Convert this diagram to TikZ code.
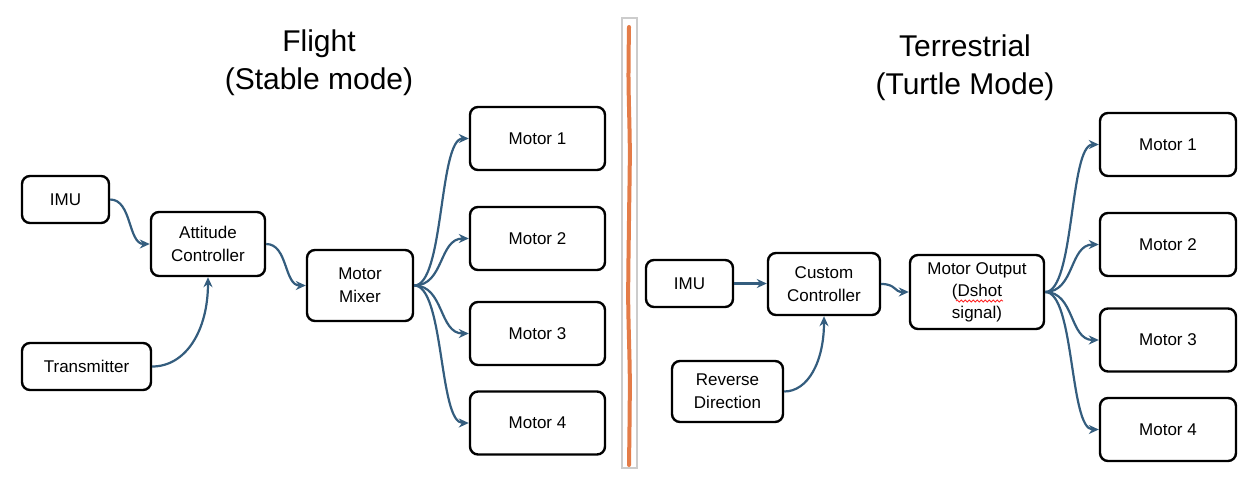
\documentclass[tikz,border=0pt]{standalone}
\usepackage{fontspec}
\setmainfont{Liberation Sans}
\usetikzlibrary{arrows.meta,calc,decorations.pathmorphing}
\definecolor{conncol}{RGB}{52,93,126}
\definecolor{divorange}{RGB}{228,124,72}
\newcommand\scurve[2]{\draw[link] (#1) .. controls ($(#1)!0.55!(#2 |- #1)$) and ($(#2)!0.55!(#1 |- #2)$) .. (#2);}
\newcommand\upcurve[2]{\draw[link] (#1) .. controls ($(#1)!0.6!(#2 |- #1)$) and ($(#2)!0.6!(#2 |- #1)$) .. (#2);}
\begin{document}
\begin{tikzpicture}[x=1pt,y=-1pt,
  box/.style={draw=black,line width=2.4pt,rounded corners=8pt,align=center,inner sep=0pt,
    font=\fontsize{17}{23}\selectfont,text=black},
  title/.style={align=center,inner sep=0pt,font=\fontsize{30}{38}\selectfont},
  link/.style={draw=conncol,line width=2.2pt,-{Stealth[length=10pt,width=9pt]}}]
\useasboundingbox (0,0) rectangle (1246,486);
% titles
\node[title] (t1) at (319,63) {Flight\\(Stable mode)};
\node[title] (t2) at (965,68) {Terrestrial\\(Turtle Mode)};
% divider
\draw[draw=gray!40,line width=1.2pt] (622,18) rectangle (637,468);
\draw[divorange,line width=4pt,line cap=round] plot[smooth] coordinates {(629,27) (628.5,80) (629.8,150) (629,220) (628.2,300) (629.8,380) (629,465)};
% left nodes
\node[box,minimum width=87pt,minimum height=47pt] (imuL) at (65.5,199.5) {IMU};
\node[box,minimum width=114pt,minimum height=64pt] (att) at (208,244) {Attitude\\Controller};
\node[box,minimum width=129pt,minimum height=47pt] (tx) at (86.5,366.5) {Transmitter};
\node[box,minimum width=106pt,minimum height=71pt] (mix) at (360,285.5) {Motor\\Mixer};
\node[box,minimum width=135pt,minimum height=63pt] (m1) at (537.5,138.5) {Motor 1};
\node[box,minimum width=135pt,minimum height=63pt] (m2) at (537.5,238.5) {Motor 2};
\node[box,minimum width=135pt,minimum height=63pt] (m3) at (537.5,333.5) {Motor 3};
\node[box,minimum width=135pt,minimum height=63pt] (m4) at (537.5,423) {Motor 4};
% right nodes
\node[box,minimum width=87pt,minimum height=47pt] (imuR) at (689.5,283.5) {IMU};
\node[box,minimum width=112pt,minimum height=62pt] (cc) at (824,284) {Custom\\Controller};
\node[box,minimum width=111pt,minimum height=61pt] (rd) at (727.5,391.5) {Reverse\\Direction};
\node[box,minimum width=134pt,minimum height=74pt,font=\fontsize{17}{22}\selectfont] (mo) at (977,292) {Motor Output\\(Dshot\\signal)};
\node[box,minimum width=136pt,minimum height=63pt] (n1) at (1168,144.5) {Motor 1};
\node[box,minimum width=136pt,minimum height=63pt] (n2) at (1168,244.5) {Motor 2};
\node[box,minimum width=136pt,minimum height=63pt] (n3) at (1168,340) {Motor 3};
\node[box,minimum width=136pt,minimum height=63pt] (n4) at (1168,429.5) {Motor 4};
% spell-check underline
\draw[red!85!white,line width=0.8pt,decorate,decoration={snake,amplitude=1.1pt,segment length=4pt}]
  ($(mo.center)+(-21,9)$) -- ($(mo.center)+(26,9)$);
% left connectors
\scurve{imuL.east}{att.west}
\upcurve{tx.east}{att.south}
\scurve{att.east}{mix.west}
\scurve{mix.east}{m1.west}
\scurve{mix.east}{m2.west}
\scurve{mix.east}{m3.west}
\scurve{mix.east}{m4.west}
% right connectors
\draw[link] (imuR.east) -- (cc.west |- imuR.east);
\upcurve{rd.east}{cc.south}
\scurve{cc.east}{mo.west}
\scurve{mo.east}{n1.west}
\scurve{mo.east}{n2.west}
\scurve{mo.east}{n3.west}
\scurve{mo.east}{n4.west}
\end{tikzpicture}
\end{document}
